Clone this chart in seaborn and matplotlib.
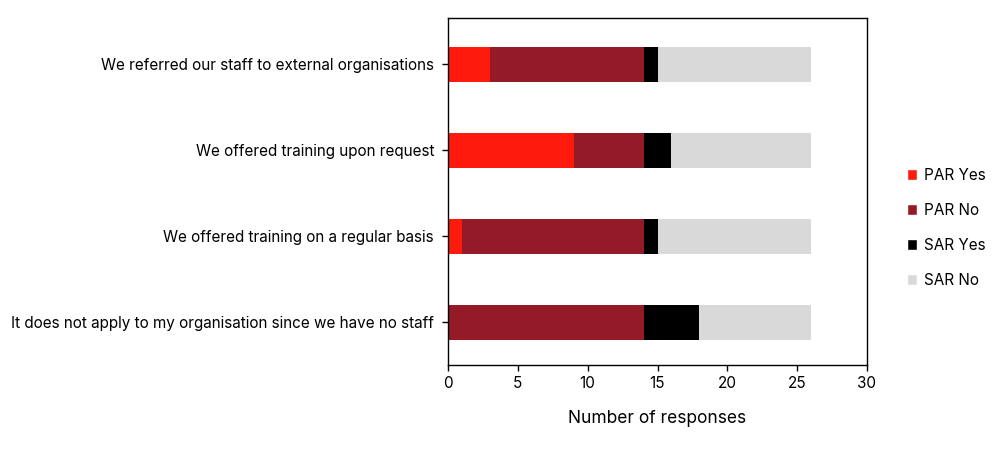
import numpy as np
import matplotlib.pyplot as plt
import pandas as pd
import seaborn as sns
from matplotlib.patches import Patch

sns.set_theme(style='white')
plt.rcParams['font.family'] = ['Inter', 'DejaVu Sans']

categories = [
    'We referred our staff to external organisations',
    'We offered training upon request',
    'We offered training on a regular basis',
    'It does not apply to my organisation since we have no staff',
]
par_yes = [3, 9, 1, 0]
par_no = [11, 5, 13, 14]
sar_yes = [1, 2, 1, 4]
sar_no = [11, 10, 11, 8]

series = [('PAR Yes', par_yes, '#FF1A0E'),
          ('PAR No', par_no, '#951A28'),
          ('SAR Yes', sar_yes, '#000000'),
          ('SAR No', sar_no, '#D9D9D9')]

df = pd.DataFrame({'category': categories})
running = np.zeros(len(categories))
for name, vals, color in series:
    running = running + np.array(vals)
    df[name] = running

fig, ax = plt.subplots(figsize=(10, 4.51), dpi=100)
fig.subplots_adjust(left=0.448, right=0.867, top=0.96, bottom=0.19)

# draw cumulative totals from the back to the front
for name, vals, color in reversed(series):
    sns.barplot(data=df, x=name, y='category', orient='h', color=color,
                width=0.4, saturation=1, linewidth=0, edgecolor=color, ax=ax)

ax.set_xlim(0, 30)
ax.set_xticks(range(0, 31, 5))
ax.set_ylim(3.5, -0.54)
ax.set_xlabel('Number of responses', fontsize=12.5, labelpad=14, color='black')
ax.set_ylabel('')
ax.tick_params(axis='both', labelsize=11, colors='black', length=4, width=1,
               bottom=True, left=True, direction='out')
ax.tick_params(axis='y', pad=6)
for spine in ax.spines.values():
    spine.set_color('black')
    spine.set_linewidth(1)

handles = [Patch(facecolor=c, label=n) for n, v, c in series]
fig.legend(handles=handles, loc='center left', bbox_to_anchor=(0.893, 0.495),
           frameon=False, fontsize=11, handlelength=0.7, handleheight=0.7,
           handletextpad=0.4, labelspacing=1.32, labelcolor='black')

plt.savefig('out.png', dpi=100)
